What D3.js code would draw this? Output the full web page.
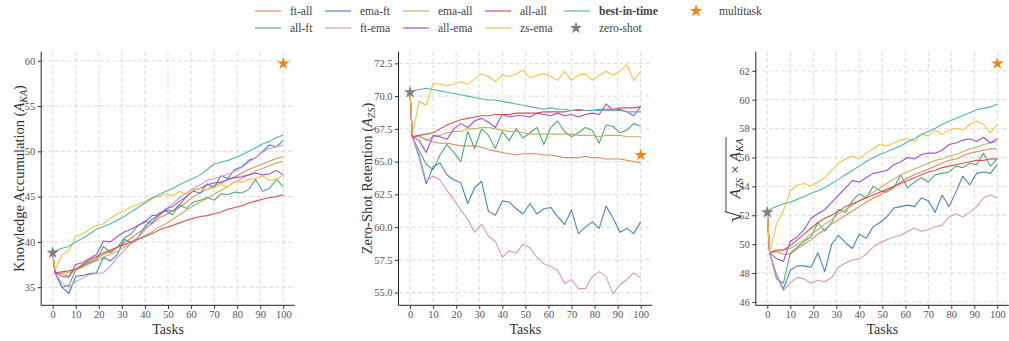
<!DOCTYPE html>
<html>
<head>
<meta charset="utf-8">
<script src="https://cdn.jsdelivr.net/npm/d3@7"></script>
<style>
  body { margin: 0; background: #fff; }
  svg text { font-family: "Liberation Serif", "DejaVu Serif", serif; }
</style>
</head>
<body>
<div id="chart"></div>
<script>
// task index at which each value was read (sampled every 3 tasks)
const tasks = [0, 1, 4, 7, 10, 13, 16, 19, 22, 25, 28, 31, 34, 37, 40, 43, 46, 49, 52, 55, 58, 61, 64, 67, 70, 73, 76, 79, 82, 85, 88, 91, 94, 97, 100];

// Knowledge accumulation (A_KA)
const kaFtAll  = [38.8, 36.6, 36.5, 36.2, 37.0, 37.4, 37.8, 38.2, 38.6, 39.0, 39.4, 39.9, 40.4, 41.0, 41.5, 42.0, 42.6, 43.0, 43.4, 43.8, 44.4, 45.0, 45.4, 45.8, 46.2, 46.5, 46.9, 47.2, 47.6, 48.0, 48.3, 48.6, 48.9, 49.2, 49.4];
const kaAllFt  = [38.8, 36.6, 35.0, 35.2, 36.9, 37.3, 37.7, 38.0, 39.5, 38.8, 39.4, 40.4, 40.9, 41.8, 42.3, 42.0, 43.2, 43.4, 43.0, 44.1, 43.7, 44.4, 44.6, 44.9, 44.6, 45.3, 45.2, 45.5, 45.4, 45.8, 46.9, 45.6, 45.9, 46.9, 46.1];
const kaEmaFt  = [38.8, 36.6, 35.0, 34.3, 36.2, 36.3, 36.5, 36.6, 38.3, 37.9, 38.6, 40.3, 39.9, 40.5, 41.7, 42.5, 42.9, 43.5, 43.4, 44.1, 45.0, 45.6, 45.4, 46.4, 46.0, 47.3, 47.0, 48.0, 48.3, 49.0, 49.3, 50.0, 50.7, 50.5, 51.2];
const kaFtEma  = [38.8, 36.6, 35.4, 35.0, 35.6, 36.0, 36.4, 36.5, 36.6, 37.3, 38.3, 39.0, 39.9, 40.5, 41.3, 42.2, 42.8, 43.6, 44.2, 44.9, 45.4, 45.9, 46.3, 46.8, 47.0, 47.2, 47.5, 47.8, 48.2, 48.8, 49.3, 49.9, 50.3, 50.5, 50.7];
const kaEmaAll = [38.8, 36.6, 36.6, 36.6, 36.9, 37.2, 37.6, 37.9, 38.3, 38.6, 39.0, 39.4, 39.8, 40.3, 40.7, 41.1, 41.6, 42.0, 42.5, 43.0, 43.5, 44.0, 44.4, 44.8, 45.3, 45.7, 46.1, 46.6, 47.0, 47.4, 47.8, 48.1, 48.4, 48.7, 48.9];
const kaAllEma = [38.8, 36.6, 36.2, 36.1, 37.5, 37.7, 38.2, 38.6, 40.1, 40.0, 40.6, 41.1, 41.4, 41.8, 42.2, 42.9, 43.0, 43.6, 43.9, 44.5, 45.0, 45.7, 45.9, 46.3, 46.5, 46.6, 46.9, 47.1, 47.2, 47.4, 47.6, 47.4, 47.5, 47.9, 47.4];
const kaAllAll = [38.8, 36.6, 36.7, 36.8, 37.0, 37.5, 38.0, 38.4, 38.8, 39.1, 39.4, 39.7, 40.0, 40.3, 40.6, 40.9, 41.3, 41.6, 41.8, 42.1, 42.4, 42.6, 42.8, 42.9, 43.1, 43.3, 43.6, 43.8, 44.0, 44.3, 44.5, 44.7, 44.9, 45.0, 45.2];
const kaZsEma  = [38.8, 36.9, 38.6, 39.0, 40.6, 40.9, 41.4, 41.8, 42.0, 42.6, 43.1, 43.4, 43.9, 44.1, 44.5, 44.9, 45.0, 45.3, 45.1, 45.6, 45.2, 45.7, 45.9, 45.8, 46.0, 46.3, 46.1, 46.7, 46.6, 46.9, 47.0, 47.3, 46.8, 46.9, 47.4];
const kaBest   = [38.8, 39.0, 39.3, 39.5, 40.0, 40.4, 40.9, 41.4, 41.7, 42.0, 42.4, 42.8, 43.3, 43.8, 44.3, 44.8, 45.2, 45.6, 45.9, 46.3, 46.7, 47.0, 47.4, 48.0, 48.6, 48.8, 49.0, 49.3, 49.6, 50.0, 50.4, 50.8, 51.1, 51.5, 51.8];

// Zero-shot retention (A_ZS)
const zsFtAll  = [70.3, 66.9, 66.9, 66.7, 66.5, 66.4, 66.4, 66.3, 66.2, 66.2, 66.2, 66.1, 65.9, 65.8, 65.7, 65.6, 65.5, 65.6, 65.6, 65.6, 65.5, 65.5, 65.4, 65.3, 65.3, 65.3, 65.4, 65.3, 65.3, 65.2, 65.2, 65.2, 65.1, 65.0, 64.9];
const zsAllFt  = [70.3, 66.9, 65.8, 64.8, 64.4, 65.5, 66.3, 65.7, 65.0, 67.3, 66.0, 67.5, 67.0, 66.0, 67.3, 66.6, 67.5, 66.8, 67.2, 67.6, 66.3, 67.6, 68.1, 67.3, 66.9, 67.2, 67.6, 67.4, 66.4, 67.8, 67.7, 67.2, 67.4, 67.9, 67.7];
const zsEmaFt  = [70.3, 66.9, 65.3, 63.3, 64.6, 64.9, 64.0, 63.6, 63.4, 61.8, 63.0, 63.5, 61.2, 60.9, 62.0, 61.9, 61.4, 61.0, 61.8, 61.0, 61.4, 61.5, 60.8, 60.2, 61.3, 59.5, 60.0, 60.4, 59.9, 61.6, 60.7, 59.6, 59.9, 59.5, 60.4];
const zsFtEma  = [70.3, 66.9, 65.5, 63.5, 63.9, 63.6, 62.8, 62.1, 61.3, 60.6, 59.6, 60.2, 59.3, 58.9, 57.7, 58.2, 58.0, 58.7, 58.4, 57.7, 57.2, 57.0, 56.7, 55.7, 56.0, 55.3, 55.3, 56.2, 56.6, 56.2, 54.9, 55.6, 56.0, 56.5, 56.1];
const zsEmaAll = [70.3, 66.9, 67.0, 66.6, 66.9, 67.0, 67.2, 67.3, 67.3, 67.5, 67.5, 67.6, 67.6, 67.5, 67.4, 67.3, 67.3, 67.2, 67.1, 67.1, 67.1, 67.1, 67.1, 67.1, 67.1, 67.0, 67.0, 67.0, 66.9, 67.0, 67.0, 67.0, 66.9, 66.9, 66.9];
const zsAllEma = [70.3, 66.9, 66.6, 65.7, 67.0, 66.9, 66.7, 67.5, 67.9, 67.6, 68.1, 68.3, 68.0, 67.6, 68.6, 68.4, 68.5, 68.5, 68.4, 68.7, 68.6, 68.5, 68.7, 68.5, 68.6, 68.4, 68.6, 68.7, 68.6, 69.4, 68.9, 69.0, 68.8, 68.5, 69.2];
const zsAllAll = [70.3, 66.9, 67.0, 67.1, 67.2, 67.5, 67.8, 68.0, 68.2, 68.3, 68.4, 68.5, 68.5, 68.6, 68.6, 68.6, 68.7, 68.7, 68.7, 68.7, 68.8, 68.8, 68.8, 68.8, 68.9, 68.9, 68.9, 68.9, 69.0, 69.0, 69.0, 69.1, 69.1, 69.1, 69.2];
const zsZsEma  = [70.3, 67.1, 69.6, 69.3, 71.0, 70.9, 70.8, 70.9, 71.1, 70.9, 71.3, 71.7, 71.5, 71.1, 71.6, 71.5, 71.7, 72.0, 71.4, 71.6, 71.7, 71.5, 71.2, 71.9, 71.2, 71.6, 71.7, 71.2, 71.6, 71.9, 71.6, 71.9, 72.4, 71.2, 71.9];
const zsBest   = [70.3, 70.4, 70.5, 70.6, 70.5, 70.4, 70.3, 70.2, 70.1, 70.0, 69.9, 69.8, 69.7, 69.7, 69.6, 69.5, 69.4, 69.3, 69.2, 69.1, 69.0, 69.1, 69.0, 69.0, 68.9, 69.0, 68.9, 68.9, 68.9, 68.9, 68.9, 68.9, 68.8, 68.8, 68.8];

// sqrt(A_ZS x A_KA)
const hmFtAll  = [52.2, 49.4, 49.5, 49.3, 49.3, 49.7, 50.0, 50.3, 50.7, 51.0, 51.4, 51.7, 52.0, 52.3, 52.6, 52.9, 53.2, 53.4, 53.7, 54.0, 54.3, 54.6, 54.8, 55.0, 55.2, 55.4, 55.6, 55.8, 55.9, 56.1, 56.3, 56.4, 56.5, 56.6, 56.6];
const hmAllFt  = [52.2, 49.4, 47.6, 47.3, 49.4, 49.8, 50.2, 50.5, 51.5, 50.9, 51.5, 52.4, 52.2, 53.0, 53.5, 53.2, 54.0, 53.7, 53.6, 53.9, 54.8, 53.9, 54.3, 54.6, 54.3, 54.8, 54.9, 55.0, 55.4, 55.3, 55.6, 55.5, 56.3, 55.4, 55.9];
const hmEmaFt  = [52.2, 49.4, 47.9, 46.9, 48.2, 48.5, 48.5, 48.4, 49.4, 48.1, 50.0, 50.6, 50.1, 49.7, 50.7, 50.4, 51.2, 51.5, 51.9, 52.5, 52.6, 52.7, 52.6, 53.2, 53.0, 52.2, 53.4, 52.6, 53.6, 54.7, 54.1, 54.9, 55.0, 54.9, 55.5];
const hmFtEma  = [52.2, 49.4, 47.8, 46.8, 47.3, 47.7, 47.6, 47.3, 47.5, 47.4, 47.7, 48.4, 48.7, 48.9, 49.0, 49.3, 49.8, 50.1, 50.3, 50.5, 50.6, 50.9, 51.1, 50.9, 51.0, 51.2, 51.3, 51.9, 52.1, 51.9, 52.2, 52.6, 53.2, 53.4, 53.2];
const hmEmaAll = [52.2, 49.4, 49.5, 49.6, 49.7, 50.0, 50.3, 50.7, 51.0, 51.4, 51.7, 52.1, 52.4, 52.7, 53.0, 53.3, 53.6, 53.9, 54.2, 54.5, 54.8, 55.0, 55.2, 55.4, 55.6, 55.8, 55.9, 56.1, 56.2, 56.4, 56.6, 56.7, 56.9, 57.0, 57.1];
const hmAllEma = [52.2, 49.4, 49.0, 48.8, 50.2, 50.5, 51.0, 51.8, 52.1, 52.4, 52.9, 53.4, 53.9, 54.4, 54.3, 54.6, 54.9, 55.0, 55.1, 55.5, 55.7, 56.0, 55.9, 56.2, 56.3, 56.3, 56.5, 56.9, 57.0, 57.2, 57.3, 57.1, 57.4, 57.0, 57.3];
const hmAllAll = [52.2, 49.4, 49.6, 49.6, 49.9, 50.3, 50.7, 51.1, 51.5, 51.8, 52.0, 52.3, 52.6, 52.8, 53.0, 53.2, 53.4, 53.6, 53.8, 54.0, 54.2, 54.4, 54.6, 54.8, 55.0, 55.1, 55.3, 55.4, 55.5, 55.6, 55.7, 55.8, 55.8, 55.9, 55.9];
const hmZsEma  = [52.2, 49.4, 51.4, 52.3, 53.7, 54.1, 54.2, 54.0, 54.3, 54.6, 55.1, 55.6, 55.9, 56.1, 55.9, 56.3, 56.6, 56.9, 56.8, 57.0, 57.2, 57.3, 57.1, 57.6, 57.5, 57.9, 57.6, 57.9, 58.0, 57.9, 58.3, 58.5, 58.3, 57.7, 58.3];
const hmBest   = [52.2, 52.4, 52.6, 52.8, 52.9, 53.1, 53.3, 53.5, 53.7, 53.9, 54.2, 54.5, 54.8, 55.1, 55.4, 55.7, 56.0, 56.2, 56.4, 56.6, 56.8, 57.1, 57.3, 57.6, 57.8, 58.0, 58.3, 58.5, 58.7, 58.9, 59.1, 59.3, 59.4, 59.5, 59.7];

// single markers: zero-shot at task 0, multitask at task 100 (one value per panel)
const zeroShot  = [38.8, 70.3, 52.2];
const multitask = [59.7, 65.5, 62.5];

const xTicks = [0, 10, 20, 30, 40, 50, 60, 70, 80, 90, 100];
const kaTicks = [35, 40, 45, 50, 55, 60];
const zsTicks = [55.0, 57.5, 60.0, 62.5, 65.0, 67.5, 70.0, 72.5];
const hmTicks = [46, 48, 50, 52, 54, 56, 58, 60, 62];

const seriesNames  = ['ft-all', 'all-ft', 'ema-ft', 'ft-ema', 'ema-all', 'all-ema', 'all-all', 'zs-ema', 'best-in-time'];
const seriesColors = ['#e48a5c', '#55a87c', '#4c84c0', '#db97c6', '#bbb46a', '#9d4fdf', '#d8514f', '#f2c548', '#58b3b3'];

const width = 1009, height = 341;
const plotTop = 51.7, plotBottom = 305.3;

const panels = [
  { left: 41.2, right: 294.8, yDomain: [33.0, 61.0], ticks: kaTicks, fmt: d3.format('d'), labelX: 19,
    data: [kaFtAll, kaAllFt, kaEmaFt, kaFtEma, kaEmaAll, kaAllEma, kaAllAll, kaZsEma, kaBest] },
  { left: 398.5, right: 652.2, yDomain: [54.03, 73.39], ticks: zsTicks, fmt: d3.format('.1f'), labelX: 367,
    data: [zsFtAll, zsAllFt, zsEmaFt, zsFtEma, zsEmaAll, zsAllEma, zsAllAll, zsZsEma, zsBest] },
  { left: 755.8, right: 1008.8, yDomain: [45.77, 63.32], ticks: hmTicks, fmt: d3.format('d'), labelX: 735,
    data: [hmFtAll, hmAllFt, hmEmaFt, hmFtEma, hmEmaAll, hmAllEma, hmAllAll, hmZsEma, hmBest] }
];

const svg = d3.select('#chart').append('svg')
  .attr('width', width)
  .attr('height', height);

const star = d3.symbol().type(d3.symbolStar).size(48);

panels.forEach((p, pi) => {
  const x = d3.scaleLinear().domain([-5, 105]).range([p.left, p.right]);
  const y = d3.scaleLinear().domain(p.yDomain).range([plotBottom, plotTop]);
  const g = svg.append('g');

  // dashed grid
  g.append('g')
    .selectAll('line')
    .data(xTicks)
    .join('line')
    .attr('x1', d => x(d)).attr('x2', d => x(d))
    .attr('y1', plotTop).attr('y2', plotBottom)
    .attr('stroke', '#d2d2d2').attr('stroke-width', 0.8).attr('stroke-dasharray', '4,2.5');
  g.append('g')
    .selectAll('line')
    .data(p.ticks)
    .join('line')
    .attr('x1', p.left).attr('x2', p.right)
    .attr('y1', d => y(d)).attr('y2', d => y(d))
    .attr('stroke', '#d2d2d2').attr('stroke-width', 0.8).attr('stroke-dasharray', '4,2.5');

  // series lines
  const line = d3.line()
    .x((d, i) => x(tasks[i]))
    .y(d => y(d));
  p.data.forEach((vals, si) => {
    g.append('path')
      .datum(vals)
      .attr('d', line)
      .attr('fill', 'none')
      .attr('stroke', seriesColors[si])
      .attr('stroke-width', 1.1)
      .attr('stroke-linejoin', 'round');
  });

  // markers
  g.append('path')
    .attr('d', star)
    .attr('transform', `translate(${x(0)},${y(zeroShot[pi])})`)
    .attr('fill', '#808080');
  g.append('path')
    .attr('d', star)
    .attr('transform', `translate(${x(100)},${y(multitask[pi])})`)
    .attr('fill', '#ff7f0e');

  // axes
  const xAxis = g.append('g')
    .attr('transform', `translate(0,${plotBottom})`)
    .call(d3.axisBottom(x).tickValues(xTicks).tickSize(3.5).tickPadding(1.5).tickSizeOuter(0));
  const yAxis = g.append('g')
    .attr('transform', `translate(${p.left},0)`)
    .call(d3.axisLeft(y).tickValues(p.ticks).tickFormat(p.fmt).tickSize(3.5).tickPadding(2.5).tickSizeOuter(0));
  [xAxis, yAxis].forEach(a => {
    a.select('.domain').attr('stroke', '#222').attr('stroke-width', 1);
    a.selectAll('.tick line').attr('stroke', '#333');
    a.selectAll('.tick text')
      .attr('fill', '#555')
      .style('font-size', '10.5px')
      .style('font-family', '"Liberation Serif", serif');
  });
  // spines cover the full axes box
  yAxis.select('.domain').attr('d', `M0,${plotTop}V${plotBottom}`);
  xAxis.select('.domain').attr('d', `M${p.left},0H${p.right}`);

  // x label
  g.append('text')
    .attr('x', (p.left + p.right) / 2)
    .attr('y', 334)
    .attr('text-anchor', 'middle')
    .attr('fill', '#333')
    .style('font-size', '14px')
    .text('Tasks');

  // y label
  const cy = (plotTop + plotBottom) / 2;
  const lab = g.append('g').attr('transform', `translate(${p.labelX},${cy}) rotate(-90)`);
  if (pi < 2) {
    const t = lab.append('text')
      .attr('text-anchor', 'middle')
      .attr('dy', '0.35em')
      .attr('fill', '#333')
      .style('font-size', '14.5px');
    t.append('tspan').text(pi === 0 ? 'Knowledge Accumulation (' : 'Zero-Shot Retention (');
    t.append('tspan').style('font-style', 'italic').text('A');
    t.append('tspan').attr('dy', 3).style('font-size', '10px').style('font-style', 'italic')
      .text(pi === 0 ? 'KA' : 'ZS');
    t.append('tspan').attr('dy', -3).text(')');
  } else {
    const root = lab.append('text')
      .attr('x', -44)
      .attr('dy', '0.3em')
      .attr('fill', '#333')
      .style('font-size', '21px')
      .text('\u221A');
    const rest = lab.append('text')
      .attr('x', -20)
      .attr('dy', '0.35em')
      .attr('fill', '#333')
      .style('font-size', '15.5px');
    rest.append('tspan').style('font-style', 'italic').text('A');
    rest.append('tspan').attr('dy', 3).style('font-size', '10.5px').style('font-style', 'italic').text('ZS');
    rest.append('tspan').attr('dy', -3).text(' \u00D7 ');
    rest.append('tspan').style('font-style', 'italic').text('A');
    rest.append('tspan').attr('dy', 3).style('font-size', '10.5px').style('font-style', 'italic').text('KA');
    const rb = root.node().getBBox();
    const bb = rest.node().getBBox();
    lab.append('line')
      .attr('x1', rb.x + rb.width - 1.5).attr('x2', bb.x + bb.width + 1)
      .attr('y1', -9).attr('y2', -9)
      .attr('stroke', '#333').attr('stroke-width', 0.9);
  }
});

// legend: 6 columns, filled column by column
const legendItems = seriesNames.map((n, i) => ({ name: n, color: seriesColors[i], type: 'line' }))
  .concat([{ name: 'zero-shot', color: '#808080', type: 'star' }, { name: 'multitask', color: '#ff7f0e', type: 'star' }]);
const legendCols = [255, 325, 403, 485, 564, 684];
const legendRows = [11, 28];
const legend = svg.append('g');
legendItems.forEach((it, i) => {
  let col = Math.floor(i / 2), row = i % 2;
  if (it.name === 'zero-shot') { col = 4; row = 1; }
  if (it.name === 'best-in-time') { col = 4; row = 0; }
  if (it.name === 'multitask') { col = 5; row = 0; }
  const lx = legendCols[col], ly = legendRows[row];
  if (it.type === 'line') {
    legend.append('line')
      .attr('x1', lx).attr('x2', lx + 26)
      .attr('y1', ly).attr('y2', ly)
      .attr('stroke', it.color).attr('stroke-width', 1.8).attr('stroke-opacity', 0.65);
  } else {
    legend.append('path')
      .attr('d', star)
      .attr('transform', `translate(${lx + 12},${ly})`)
      .attr('fill', it.color);
  }
  legend.append('text')
    .attr('x', lx + 35)
    .attr('y', ly)
    .attr('dy', '0.35em')
    .attr('fill', '#444')
    .style('font-size', '11.5px')
    .style('font-weight', it.name === 'best-in-time' ? 'bold' : 'normal')
    .text(it.name);
});
</script>
</body>
</html>
